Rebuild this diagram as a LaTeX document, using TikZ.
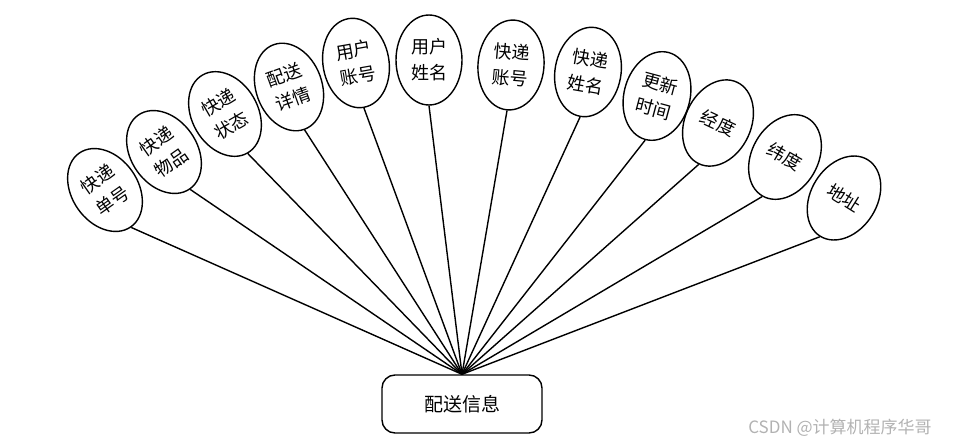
\documentclass[tikz,border=0pt]{standalone}
\usepackage{fontspec}
\setmainfont{Noto Sans CJK SC}
\usetikzlibrary{shapes.geometric}
\tikzset{
  attr/.style={draw, ellipse, line width=1.4pt, minimum width=66pt, minimum height=90pt,
    inner sep=0pt, align=center, font=\fontsize{18}{26}\selectfont},
  entbox/.style={draw, rounded corners=13pt, line width=1.4pt, minimum width=160pt,
    minimum height=58pt, font=\fontsize{19}{22}\selectfont},
  link/.style={line width=1.4pt}
}
\begin{document}
\begin{tikzpicture}[x=1pt,y=-1pt]
\useasboundingbox (0,0) rectangle (962,447);
\node[entbox] (box) at (462,404) {配送信息};
\node[attr, rotate=35] (a1) at (105,190) {快递\\单号};
\node[attr, rotate=35] (a2) at (164,152) {快递\\物品};
\node[attr, rotate=30] (a3) at (225,114) {快递\\状态};
\node[attr, rotate=20] (a4) at (289,87) {配送\\详情};
\node[attr, rotate=10] (a5) at (356,63) {用户\\账号};
\node[attr, rotate=0] (a6) at (429,60) {用户\\姓名};
\node[attr, rotate=-5] (a7) at (511,65) {快递\\账号};
\node[attr, rotate=-10] (a8) at (588,72) {快递\\姓名};
\node[attr, rotate=-15] (a9) at (657,96) {更新\\时间};
\node[attr, rotate=-25] (a10) at (718,123) {经度};
\node[attr, rotate=-30] (a11) at (785,157) {纬度};
\node[attr, rotate=-32] (a12) at (844,198) {地址};
\foreach \i in {1,...,12} { \draw[link] (a\i.south) -- (box.north); }
\node[text=gray!60, font=\fontsize{17}{20}\selectfont] (wm) at (840,428) {CSDN @计算机程序华哥};
\end{tikzpicture}
\end{document}
